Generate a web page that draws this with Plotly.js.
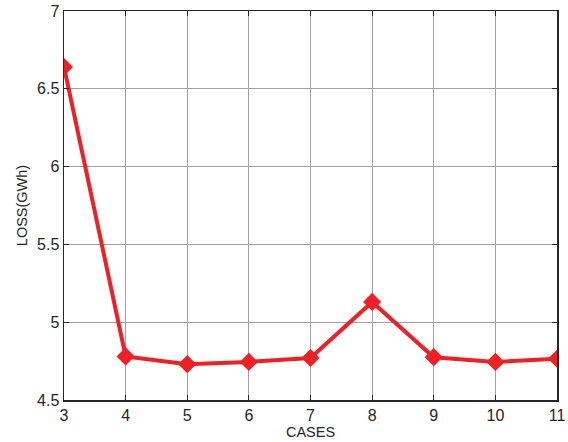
<!DOCTYPE html>
<html>
<head>
<meta charset="utf-8">
<script src="https://cdn.plot.ly/plotly-3.0.1.min.js"></script>
<style>html,body{margin:0;padding:0;background:#fff;}#chart{width:568px;height:442px;}</style>
</head>
<body>
<div id="chart"></div>
<script>
const cases = [3, 4, 5, 6, 7, 8, 9, 10, 11];
const loss = [6.64, 4.78, 4.73, 4.745, 4.77, 5.13, 4.775, 4.745, 4.765];
const xTicks = [3, 4, 5, 6, 7, 8, 9, 10, 11];
const yTicks = [4.5, 5, 5.5, 6, 6.5, 7];
const yTickLabels = ['4.5', '5', '5.5', '6', '6.5', '7'];

Plotly.newPlot('chart', [{
  x: cases, y: loss, type: 'scatter', mode: 'lines+markers',
  line: {color: '#ee2024', width: 4},
  marker: {symbol: 'diamond', size: 14, color: '#ee2024'}
}], {
  width: 568, height: 442,
  margin: {l: 64, r: 11, t: 11, b: 42},
  paper_bgcolor: '#fff', plot_bgcolor: '#fff',
  font: {family: 'Liberation Sans, Arial, sans-serif', color: '#262626'},
  showlegend: false,
  xaxis: {
    range: [3, 11], tickvals: xTicks, ticktext: xTicks.map(String),
    ticks: 'inside', ticklen: 5, tickcolor: '#262626', mirror: 'ticks',
    showline: true, linecolor: '#262626', linewidth: 1.5,
    showgrid: true, gridcolor: '#a0a0a0', gridwidth: 1, zeroline: false,
    tickfont: {size: 16}, title: {text: 'CASES', font: {size: 14.5}, standoff: 3}
  },
  yaxis: {
    range: [4.5, 7], tickvals: yTicks, ticktext: yTickLabels,
    ticks: 'inside', ticklen: 5, tickcolor: '#262626', mirror: 'ticks',
    showline: true, linecolor: '#262626', linewidth: 1.5,
    showgrid: true, gridcolor: '#a0a0a0', gridwidth: 1, zeroline: false,
    tickfont: {size: 16}, title: {text: 'LOSS(GWh)', font: {size: 14.5}, standoff: 6}
  }
}, {displayModeBar: false, staticPlot: true});
</script>
</body>
</html>
